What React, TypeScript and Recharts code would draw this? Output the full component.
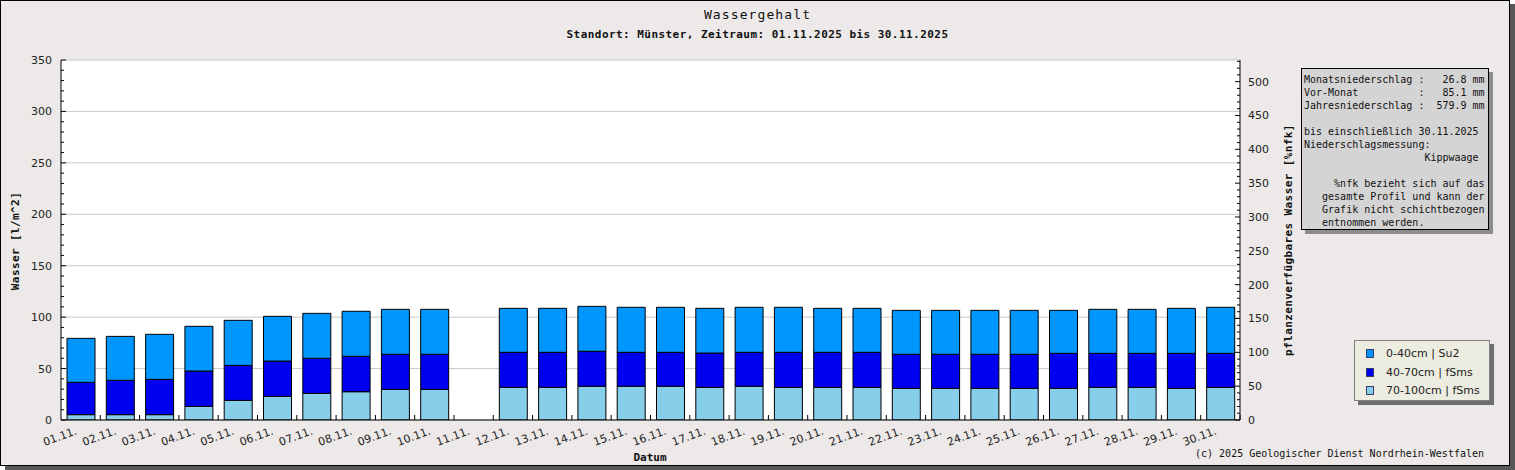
import { BarChart, Bar, XAxis, YAxis, CartesianGrid, Legend } from "recharts";

// Tage im November 2025
const days = [
  "01.11.", "02.11.", "03.11.", "04.11.", "05.11.", "06.11.", "07.11.", "08.11.", "09.11.", "10.11.",
  "11.11.", "12.11.", "13.11.", "14.11.", "15.11.", "16.11.", "17.11.", "18.11.", "19.11.", "20.11.",
  "21.11.", "22.11.", "23.11.", "24.11.", "25.11.", "26.11.", "27.11.", "28.11.", "29.11.", "30.11.",
];

// Wasser [l/m^2] je Schicht (11.11. fehlt)
const layer0to40 = [
  42.8, 42.7, 43.8, 43.5, 43.8, 43.5, 43.7, 43.8, 43.7, 43.7,
  null, 42.8, 42.8, 43.7, 43.8, 43.8, 43.5, 43.8, 43.8, 42.8,
  42.8, 42.7, 42.7, 42.7, 42.7, 41.8, 42.8, 42.8, 43.8, 44.8,
];
const layer40to70 = [
  31.4, 33.4, 34.3, 34.3, 34.0, 34.3, 34.1, 34.4, 34.1, 34.1,
  null, 34.0, 34.0, 34.0, 33.0, 33.0, 33.3, 33.0, 34.0, 34.0,
  34.0, 33.1, 33.1, 33.1, 33.1, 34.0, 33.0, 33.0, 34.0, 33.0,
];
const layer70to100 = [
  5.2, 5.2, 5.2, 13.3, 19.1, 23.0, 25.9, 27.5, 29.8, 29.8,
  null, 31.8, 31.8, 32.8, 32.8, 32.8, 31.8, 32.8, 31.8, 31.8,
  31.8, 30.8, 30.8, 30.8, 30.8, 30.8, 31.8, 31.8, 30.8, 31.8,
];

const leftMajor = [0, 50, 100, 150, 200, 250, 300, 350];
const rightMajor = [0, 50, 100, 150, 200, 250, 300, 350, 400, 450, 500];
const leftMax = 350;
const rightMax = 532;
const minorStep = 10;

const legendNames = ["0-40cm | Su2", "40-70cm | fSms", "70-100cm | fSms"];
const colors = ["#0096ff", "#0000f0", "#87ceeb"];

const infoLines = [
  "Monatsniederschlag :   26.8 mm",
  "Vor-Monat          :   85.1 mm",
  "Jahresniederschlag :  579.9 mm",
  "",
  "bis einschließlich 30.11.2025",
  "Niederschlagsmessung:",
  "                    Kippwaage",
  "",
  "     %nfk bezieht sich auf das",
  "   gesamte Profil und kann der",
  "   Grafik nicht schichtbezogen",
  "   entnommen werden.",
];

const data = days.map((day, i) => ({
  day,
  l1: layer0to40[i],
  l2: layer40to70[i],
  l3: layer70to100[i],
}));

const minorTicks = (max: number) => {
  const out: number[] = [];
  for (let v = 0; v <= max; v += minorStep) out.push(v);
  return out;
};

const mono = "'DejaVu Sans Mono', 'Liberation Mono', monospace";
const sans = "'DejaVu Sans', Verdana, sans-serif";

function LeftTick(props: any) {
  const { x, y, payload } = props;
  const major = leftMajor.includes(payload.value);
  return (
    <g>
      <line x1={x} x2={x + (major ? 5 : 3)} y1={y} y2={y} stroke="#000" />
      {major && (
        <text x={x - 9} y={y} dy={4} textAnchor="end" fontSize={11} fontFamily={sans} fill="#222">
          {payload.value}
        </text>
      )}
    </g>
  );
}

function RightTick(props: any) {
  const { x, y, payload } = props;
  const major = rightMajor.includes(payload.value);
  return (
    <g>
      <line x1={x} x2={x - (major ? 5 : 3)} y1={y} y2={y} stroke="#000" />
      {major && (
        <text x={x + 8} y={y} dy={4} textAnchor="start" fontSize={11} fontFamily={sans} fill="#222">
          {payload.value}
        </text>
      )}
    </g>
  );
}

function DayTick(props: any) {
  const { x, y, payload } = props;
  const half = payload.offset ?? 19.6;
  const tx = x - 3;
  const ty = y + 14;
  return (
    <g>
      <line x1={x + half} x2={x + half} y1={y} y2={y - 5} stroke="#000" />
      <text
        x={tx}
        y={ty}
        textAnchor="end"
        fontSize={11}
        fontFamily={sans}
        fill="#222"
        transform={`rotate(-20, ${tx}, ${ty})`}
      >
        {payload.value}
      </text>
    </g>
  );
}

function LegendBox(props: any) {
  const items = [...(props.payload || [])].sort(
    (a: any, b: any) => legendNames.indexOf(a.value) - legendNames.indexOf(b.value)
  );
  return (
    <div
      style={{
        width: 134,
        height: 56,
        background: "#ecece0",
        border: "1px solid #808080",
        boxShadow: "4px 4px 0 #6e6e6e",
        paddingTop: 3,
        boxSizing: "content-box",
      }}
    >
      {items.map((it: any) => (
        <div
          key={it.value}
          style={{ display: "flex", alignItems: "center", height: 18.7, fontFamily: sans, fontSize: 11, color: "#222" }}
        >
          <span
            style={{
              display: "inline-block",
              width: 6,
              height: 7,
              marginLeft: 11,
              marginRight: 12,
              background: it.color,
              border: "1px solid #3a3a6a",
            }}
          />
          {it.value}
        </div>
      ))}
    </div>
  );
}

export default function App() {
  return (
    <div style={{ position: "absolute", left: 0, top: 0, width: 1515, height: 470 }}>
      <div
        style={{
          position: "absolute",
          left: 0,
          top: 0,
          width: 1508,
          height: 464,
          background: "#ece9e8",
          border: "1px solid #000",
          boxShadow: "5px 4px 0 #585858",
        }}
      />
      <BarChart
        width={1515}
        height={470}
        data={data}
        margin={{ top: 60, right: 235, bottom: 20, left: 11 }}
        barSize={28}
        style={{ position: "absolute", left: 0, top: 0 }}
      >
        <CartesianGrid
          yAxisId="left"
          vertical={false}
          horizontalValues={leftMajor}
          stroke="#c8c8c8"
          fill="#ffffff"
          fillOpacity={1}
        />
        <XAxis
          dataKey="day"
          interval={0}
          tickLine={false}
          tickSize={0}
          tickMargin={0}
          height={30}
          axisLine={{ stroke: "#000" }}
          tick={<DayTick />}
        />
        <YAxis
          yAxisId="left"
          domain={[0, leftMax]}
          ticks={minorTicks(leftMax)}
          interval={0}
          width={50}
          tickLine={false}
          tickSize={0}
          tickMargin={0}
          axisLine={{ stroke: "#000" }}
          tick={<LeftTick />}
          allowDataOverflow
        />
        <YAxis
          yAxisId="right"
          orientation="right"
          domain={[0, rightMax]}
          ticks={minorTicks(rightMax)}
          interval={0}
          width={40}
          tickLine={false}
          tickSize={0}
          tickMargin={0}
          axisLine={{ stroke: "#000" }}
          tick={<RightTick />}
          allowDataOverflow
        />
        <Legend
          layout="vertical"
          align="center"
          verticalAlign="middle"
          content={<LegendBox />}
          wrapperStyle={{ left: 1354, top: 340, width: 140, height: 64 }}
        />
        <Bar yAxisId="left" dataKey="l3" name={legendNames[2]} stackId="w" fill={colors[2]} stroke="#000" isAnimationActive={false} />
        <Bar yAxisId="left" dataKey="l2" name={legendNames[1]} stackId="w" fill={colors[1]} stroke="#000" isAnimationActive={false} />
        <Bar yAxisId="left" dataKey="l1" name={legendNames[0]} stackId="w" fill={colors[0]} stroke="#000" isAnimationActive={false} />
      </BarChart>

      <div style={{ position: "absolute", left: 0, width: 1515, top: 7, textAlign: "center", fontFamily: mono, fontSize: 13, letterSpacing: 1.1, color: "#111" }}>
        Wassergehalt
      </div>
      <div style={{ position: "absolute", left: 0, width: 1515, top: 28, textAlign: "center", fontFamily: mono, fontSize: 11, fontWeight: "bold", letterSpacing: 0.45, color: "#111" }}>
        Standort: Münster, Zeitraum: 01.11.2025 bis 30.11.2025
      </div>
      <div
        style={{
          position: "absolute",
          left: 15,
          top: 241,
          transform: "translate(-50%, -50%) rotate(-90deg)",
          whiteSpace: "nowrap",
          fontFamily: mono,
          fontSize: 11,
          fontWeight: "bold",
          letterSpacing: 0.4,
          color: "#111",
        }}
      >
        Wasser [l/m^2]
      </div>
      <div
        style={{
          position: "absolute",
          left: 1288,
          top: 240,
          transform: "translate(-50%, -50%) rotate(-90deg)",
          whiteSpace: "nowrap",
          fontFamily: mono,
          fontSize: 11,
          fontWeight: "bold",
          letterSpacing: 0.4,
          color: "#111",
        }}
      >
        pflanzenverfügbares Wasser [%nfk]
      </div>
      <div style={{ position: "absolute", left: 650, top: 457, transform: "translate(-50%, -50%)", fontFamily: mono, fontSize: 11, fontWeight: "bold", color: "#111" }}>
        Datum
      </div>
      <div style={{ position: "absolute", right: 1515 - 1484, top: 448, fontFamily: mono, fontSize: 10, color: "#111", whiteSpace: "pre" }}>
        (c) 2025 Geologischer Dienst Nordrhein-Westfalen
      </div>
      <div
        style={{
          position: "absolute",
          left: 1301,
          top: 68,
          width: 184,
          height: 156,
          padding: "4px 0 0 2px",
          background: "#d4d4d4",
          border: "1px solid #000",
          boxShadow: "4px 4px 0 #8c8c8c",
          fontFamily: mono,
          fontSize: 10,
          lineHeight: "13px",
          color: "#111",
          whiteSpace: "pre",
          boxSizing: "content-box",
        }}
      >
        {infoLines.map((l, i) => (
          <div key={i} style={{ height: 13 }}>{l}</div>
        ))}
      </div>
    </div>
  );
}
